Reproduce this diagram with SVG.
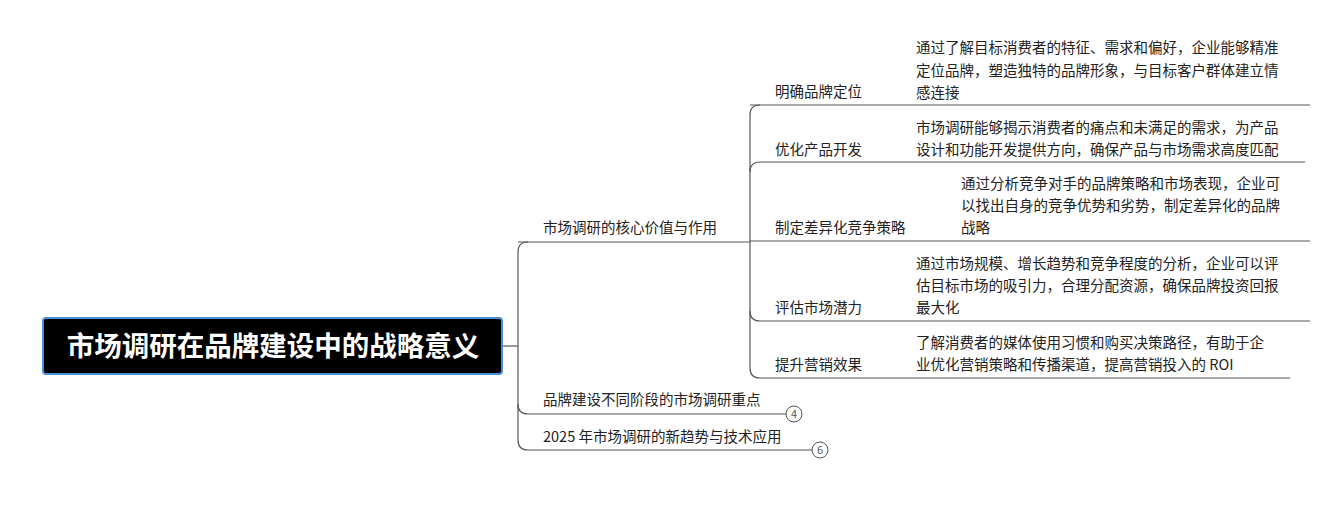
<svg xmlns="http://www.w3.org/2000/svg" width="1337" height="525" viewBox="0 0 1337 525">
<style>
text{font-family:"Noto Sans CJK SC","Liberation Sans",sans-serif;font-size:14.5px;fill:#222}
.c{fill:none;stroke:#555;stroke-width:1.2}
.n{font-size:11px;fill:#555;text-anchor:middle}
</style>
<rect width="1337" height="525" fill="#fff"/>
<g id="connectors">
<path class="c" d="M502 346H518"/>
<path class="c" d="M528 242Q518 242 518 252V440Q518 450 528 450H812"/>
<path class="c" d="M518 242H750"/>
<path class="c" d="M518 404Q518 414 528 414H786"/>
<path class="c" d="M760 105Q750 105 750 115V368Q750 378 760 378H1290"/>
<path class="c" d="M750 105H1310"/>
<path class="c" d="M760 162Q750 162 750 172" /><path class="c" d="M760 162H1305"/>
<path class="c" d="M750 241H1310"/>
<path class="c" d="M750 311Q750 321 760 321H1310"/>
</g>
<g id="root">
<rect x="43" y="318" width="459" height="56" rx="3" fill="#000" stroke="#4a90d9" stroke-width="2"/>
<text x="273" y="356" text-anchor="middle" style="font-size:27.5px;font-weight:bold;fill:#fff">市场调研在品牌建设中的战略意义</text>
</g>
<g id="b1"><text x="543" y="233">市场调研的核心价值与作用</text></g>
<g id="b2"><text x="543" y="405">品牌建设不同阶段的市场调研重点</text>
<circle cx="794" cy="414" r="8" fill="#fff" stroke="#555"/><text class="n" x="794" y="418">4</text></g>
<g id="b3"><text x="543" y="442">2025 年市场调研的新趋势与技术应用</text>
<circle cx="820" cy="450" r="8" fill="#fff" stroke="#555"/><text class="n" x="820" y="454">6</text></g>
<g id="c1"><text x="775" y="97">明确品牌定位</text>
<text x="916" y="53">通过了解目标消费者的特征、需求和偏好，企业能够精准</text>
<text x="916" y="76">定位品牌，塑造独特的品牌形象，与目标客户群体建立情</text>
<text x="916" y="98">感连接</text></g>
<g id="c2"><text x="775" y="155">优化产品开发</text>
<text x="916" y="133">市场调研能够揭示消费者的痛点和未满足的需求，为产品</text>
<text x="916" y="155">设计和功能开发提供方向，确保产品与市场需求高度匹配</text></g>
<g id="c3"><text x="775" y="233">制定差异化竞争策略</text>
<text x="961" y="189">通过分析竞争对手的品牌策略和市场表现，企业可</text>
<text x="961" y="211">以找出自身的竞争优势和劣势，制定差异化的品牌</text>
<text x="961" y="233">战略</text></g>
<g id="c4"><text x="775" y="313">评估市场潜力</text>
<text x="916" y="269">通过市场规模、增长趋势和竞争程度的分析，企业可以评</text>
<text x="916" y="291">估目标市场的吸引力，合理分配资源，确保品牌投资回报</text>
<text x="916" y="313">最大化</text></g>
<g id="c5"><text x="775" y="370">提升营销效果</text>
<text x="916" y="348">了解消费者的媒体使用习惯和购买决策路径，有助于企</text>
<text x="916" y="370">业优化营销策略和传播渠道，提高营销投入的 ROI</text></g>
</svg>
